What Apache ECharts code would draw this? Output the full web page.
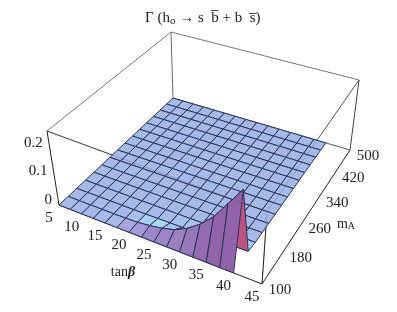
<!DOCTYPE html>
<html>
<head>
<meta charset="utf-8">
<style>html,body{margin:0;padding:0;background:#fff}#c{width:397px;height:312px;filter:blur(0.35px)}</style>
<script src="https://cdn.jsdelivr.net/npm/echarts@6/dist/echarts.min.js"></script>
</head>
<body>
<div id="c"></div>
<script>
// ---- data ----
const tanBetaTicks = [5, 10, 15, 20, 25, 30, 35, 40, 45];
const mATicks = [100, 180, 260, 340, 420, 500];
const gammaTicks = [0, 0.1, 0.2];
const tanBetaGrid = [5, 7.5, 10, 12.5, 15, 17.5, 20, 22.5, 25, 27.5, 30, 32.5, 35, 37.5, 40];
const mAGrid = [100, 127, 153, 180, 207, 233, 260, 287, 313, 340, 367, 393, 420, 447, 473, 500];
// one row per mAGrid value, one column per tanBetaGrid value
const gamma = [
 [0,0,0,0,0,0,0,0,0,0,0,0,0,0,0],
 [0,0,0,0,0,0.0005,0.002,0.007,0.014,0.026,0.048,0.08,0.125,0.19,0.26],
 [0,0,0,0,0,0,0,0.0005,0.001,0.001,0.002,0.002,0.003,0.003,0.004],
 [0,0,0,0,0,0,0,0,0,0,0,0,0,0,0],
 [0,0,0,0,0,0,0,0,0,0,0,0,0,0,0],
 [0,0,0,0,0,0,0,0,0,0,0,0,0,0,0],
 [0,0,0,0,0,0,0,0,0,0,0,0,0,0,0],
 [0,0,0,0,0,0,0,0,0,0,0,0,0,0,0],
 [0,0,0,0,0,0,0,0,0,0,0,0,0,0,0],
 [0,0,0,0,0,0,0,0,0,0,0,0,0,0,0],
 [0,0,0,0,0,0,0,0,0,0,0,0,0,0,0],
 [0,0,0,0,0,0,0,0,0,0,0,0,0,0,0],
 [0,0,0,0,0,0,0,0,0,0,0,0,0,0,0],
 [0,0,0,0,0,0,0,0,0,0,0,0,0,0,0],
 [0,0,0,0,0,0,0,0,0,0,0,0,0,0,0],
 [0,0,0,0,0,0,0,0,0,0,0,0,0,0,0]
];
const tanRange = [5, 45], mARange = [100, 500], gammaRange = [0, 0.26];

// ---- view of the 3D box ----
const floorQuad = [[59,205],[262,284],[350,150],[173,98]];
const roofQuad  = [[47,131],[267,212],[359,80],[171,32]];

function homography(q){
  const [x0,y0]=q[0],[x1,y1]=q[1],[x2,y2]=q[2],[x3,y3]=q[3];
  const dx1=x1-x2,dx2=x3-x2,sx=x0-x1+x2-x3,dy1=y1-y2,dy2=y3-y2,sy=y0-y1+y2-y3;
  const den=dx1*dy2-dx2*dy1, g=(sx*dy2-dx2*sy)/den, h=(dx1*sy-sx*dy1)/den;
  const a=x1-x0+g*x1,b=x3-x0+h*x3,d=y1-y0+g*y1,e=y3-y0+h*y3;
  return (u,v)=>{const w=g*u+h*v+1;return [(a*u+b*v+x0)/w,(d*u+e*v+y0)/w];};
}
const floorH = homography(floorQuad), roofH = homography(roofQuad);
function project(t,m,z){
  const u=(t-tanRange[0])/(tanRange[1]-tanRange[0]);
  const v=(m-mARange[0])/(mARange[1]-mARange[0]);
  const w=(z-gammaRange[0])/(gammaRange[1]-gammaRange[0]);
  const a=floorH(u,v),b=roofH(u,v);
  return [a[0]+(b[0]-a[0])*w,a[1]+(b[1]-a[1])*w];
}
function mix(c1,c2,t){t=Math.max(0,Math.min(1,t));
  return 'rgb('+c1.map((c,i)=>Math.round(c+(c2[i]-c)*t)).join(',')+')';}
const BLUE=[166,186,234],LAV=[172,168,224],MID=[156,136,200],PURPLE=[146,98,170],CYAN=[172,222,250],PINK=[186,84,130];
function cellColor(j,i){
  const near=(gamma[j][i]+gamma[j][i+1])/2, far=(gamma[j+1][i]+gamma[j+1][i+1])/2;
  const s=far-near;
  if(s>0.0003) return s<0.01?mix(LAV,MID,s/0.01):mix(MID,PURPLE,(s-0.01)/0.12);
  const b=-s;
  if(b<0.0002) return mix(BLUE,BLUE,0);
  if(b<0.022) return mix(BLUE,CYAN,b<0.008?b/0.008:(0.022-b)/0.014);
  return mix(BLUE,PINK,(b-0.022)/0.08);
}
const cells=[];
for(let j=mAGrid.length-2;j>=0;j--)for(let i=0;i<tanBetaGrid.length-1;i++)cells.push([i,j]);

const T0=tanRange[0],T1=tanRange[1],M0=mARange[0],M1=mARange[1],Z0=gammaRange[0],Z1=gammaRange[1];
const backEdges=[
 [[T0,M0,Z1],[T0,M1,Z1],'#777'],[[T0,M1,Z1],[T1,M1,Z1],'#777'],[[T1,M1,Z1],[T1,M0,Z1],'#666'],
 [[T0,M0,Z1],[T1,M0,Z1],'#444'],[[T0,M1,Z0],[T0,M1,Z1],'#666'],[[T1,M0,Z0],[T1,M0,Z1],'#222'],
 [[T1,M1,Z0],[T1,M1,Z1],'#444'],[[T0,M1,Z0],[T1,M1,Z0],'#555'],
 [[T0,M0,Z0],[T0,M0,Z1],'#222'],[[T0,M0,Z0],[T1,M0,Z0],'#222'],[[T1,M0,Z0],[T1,M1,Z0],'#222']
];
const ghostEdges=[
 [[T0,M0,Z1],[T1,M0,Z1]],[[T1,M1,Z1],[T1,M0,Z1]],[[T1,M0,Z0],[T1,M0,Z1]]
];
const labels=[
 ...tanBetaTicks.map(t=>({text:String(t),at:[t,M0,Z0],dx:-10,dy:13,align:'center'})),
 ...mATicks.map(m=>({text:String(m),at:[T1,m,Z0],dx:18,dy:6,align:'center'})),
 ...gammaTicks.map(g=>({text:String(g),at:[T0,M0,g],dx:-7,dy:-5,align:'right'}))
];

function lineSeries(items,z,opacity){
  return {type:'custom',coordinateSystem:'cartesian2d',silent:true,z:z,
    data:items.map((e,k)=>[k,0]),
    renderItem:(p,api)=>{
      const e=items[api.value(0)];
      const a=api.coord(project(...e[0])),b=api.coord(project(...e[1]));
      return {type:'line',shape:{x1:a[0],y1:a[1],x2:b[0],y2:b[1]},
        style:{stroke:e[2]||'#333',lineWidth:1,opacity:opacity}};
    }};
}
const chart=echarts.init(document.getElementById('c'),null,{renderer:'canvas'});
chart.setOption({
  animation:false,
  backgroundColor:'#fff',
  grid:{left:0,right:0,top:0,bottom:0},
  xAxis:{type:'value',min:0,max:397,show:false},
  yAxis:{type:'value',min:0,max:312,inverse:true,show:false},
  series:[
    lineSeries(backEdges,1,1),
    {type:'custom',coordinateSystem:'cartesian2d',silent:true,z:2,data:cells,
      renderItem:(p,api)=>{
        const i=api.value(0),j=api.value(1);
        const pts=[[i,j],[i+1,j],[i+1,j+1],[i,j+1]].map(([a,b])=>
          api.coord(project(tanBetaGrid[a],mAGrid[b],gamma[b][a])));
        return {type:'polygon',shape:{points:pts},
          style:{fill:cellColor(j,i),stroke:'#2a3358',lineWidth:1,lineJoin:'round'}};
      }},
    lineSeries(ghostEdges,3,0.22),
    {type:'custom',coordinateSystem:'cartesian2d',silent:true,z:4,data:labels.map((l,k)=>[k,0]),
      renderItem:(p,api)=>{
        const l=labels[api.value(0)];
        const c=api.coord(project(...l.at));
        return {type:'text',x:c[0]+l.dx,y:c[1]+l.dy,
          style:{text:l.text,fill:'#222',font:'15px "Liberation Serif"',align:l.align,verticalAlign:'middle'}};
      }}
  ],
  graphic:[
    {type:'text',x:145,y:18,z:5,style:{
      text:'{a|Γ (h}{s|o}{a| → s  b\u0305 + b  s\u0305)}',
      verticalAlign:'middle',
      rich:{a:{font:'15px "Liberation Serif"',fill:'#222'},s:{font:'11px "Liberation Serif"',fill:'#222',verticalAlign:'bottom',padding:[6,0,0,0]}}}},
    {type:'text',x:123,y:272,z:5,style:{
      text:'{a|tan}{b|β}',align:'center',verticalAlign:'middle',
      rich:{a:{font:'14px "Liberation Serif"',fill:'#222'},b:{font:'italic bold 14px "Liberation Serif"',fill:'#222'}}}},
    {type:'text',x:346,y:224,z:5,style:{
      text:'{a|m}{s|A}',align:'center',verticalAlign:'middle',
      rich:{a:{font:'14px "Liberation Serif"',fill:'#222'},s:{font:'10px "Liberation Serif"',fill:'#222',padding:[5,0,0,0]}}}}
  ]
});
</script>
</body>
</html>
